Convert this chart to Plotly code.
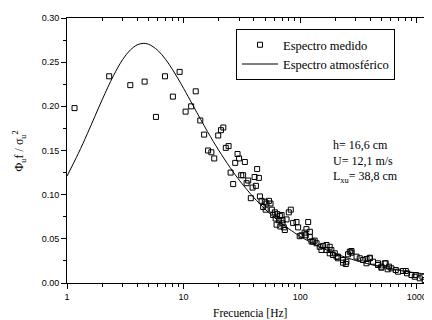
import plotly.graph_objects as go

# Measured spectrum (frequency Hz, normalized spectrum)
freq_measured = [
    1.16, 2.30, 3.49, 4.63, 5.79, 6.92, 8.09, 9.24, 10.4, 11.6, 12.7, 13.9, 15.0, 16.2, 17.3, 18.3,
    19.8, 20.9, 21.9, 23.0, 24.3, 25.3, 26.6, 27.7, 29.0, 29.9, 31.2, 32.4, 33.5, 34.7, 35.8, 37.7,
    39.0, 40.6, 41.7, 42.7, 44.2, 45.1, 46.6, 48.1, 49.7, 50.5, 51.4, 53.9, 55.6, 57.1, 58.6, 60.6,
    61.5, 62.7, 63.4, 65.9, 66.9, 67.5, 69.2, 70.5, 70.5, 72.3, 73.8, 76.3, 79.8, 83.0, 86.9, 92.9,
    95.9, 99.0, 102.6, 109, 111.6, 113, 117, 121, 120.9, 125, 129, 133, 138, 147, 152, 157, 168, 168,
    179, 179, 185, 191, 198, 205, 211, 211, 233, 233, 246, 249, 257, 266, 275, 275, 304, 324, 346,
    370, 370, 395, 395, 421, 465, 465, 497, 497, 531, 541, 562, 578, 606, 659, 690, 762, 804, 824,
    899, 960, 980, 1059, 1117, 1169, 1274, 1290,
]
val_measured = [
    0.198, 0.234, 0.224, 0.228, 0.188, 0.234, 0.211, 0.239, 0.194, 0.200, 0.217, 0.184, 0.168, 0.150, 0.148, 0.141,
    0.167, 0.173, 0.176, 0.153, 0.155, 0.125, 0.112, 0.136, 0.146, 0.141, 0.122, 0.122, 0.137, 0.113, 0.116, 0.096,
    0.108, 0.120, 0.110, 0.129, 0.119, 0.098, 0.093, 0.086, 0.092, 0.083, 0.090, 0.093, 0.090, 0.083, 0.077, 0.080,
    0.073, 0.066, 0.078, 0.071, 0.076, 0.064, 0.077, 0.071, 0.0676, 0.063, 0.060, 0.072, 0.080, 0.083, 0.068, 0.069,
    0.063, 0.053, 0.054, 0.057, 0.054, 0.061, 0.069, 0.058, 0.052, 0.047, 0.0468, 0.048, 0.045, 0.041, 0.0374, 0.042, 0.043, 0.0374,
    0.041, 0.0336, 0.0374, 0.0317, 0.0336, 0.0298, 0.0298, 0.028, 0.026, 0.023, 0.0215, 0.0241, 0.0325, 0.0354, 0.0362, 0.0343, 0.0298, 0.028, 0.026,
    0.0272, 0.0223, 0.0286, 0.028, 0.0241, 0.0204, 0.0223, 0.0173, 0.0185, 0.0223, 0.0223, 0.0155, 0.0185, 0.0166, 0.0147, 0.0128, 0.0136, 0.0136, 0.011,
    0.009, 0.0071, 0.009, 0.0053, 0.0071, 0.0034, 0.0053, 0.0015,
]

# Atmospheric spectrum curve
freq_model = [1, 1.25, 1.5, 2, 2.5, 3, 3.5, 4, 4.5, 5, 6, 7, 8, 9, 10, 12, 14, 16, 18, 20,
              25, 30, 35, 40, 50, 60, 70, 80, 100, 120, 150, 200, 250, 300, 400, 500, 600,
              800, 1000, 1200, 1400]
val_model = [0.121, 0.1466, 0.1695, 0.2073, 0.2346, 0.2529, 0.2639, 0.2696, 0.2713, 0.2703,
             0.2634, 0.2532, 0.2420, 0.2309, 0.2203, 0.2013, 0.1852, 0.1716, 0.1601, 0.1502,
             0.1308, 0.1164, 0.1055, 0.0967, 0.0835, 0.0741, 0.0669, 0.0612, 0.0528, 0.0468,
             0.0403, 0.0333, 0.0287, 0.0254, 0.0210, 0.0181, 0.0160, 0.0132, 0.0114, 0.0101,
             0.0091]

x_tickvals = [1, 10, 100, 1000]
x_ticktext = ["1", "10", "100", "1000"]
x_minor_tickvals = [2, 3, 4, 5, 6, 7, 8, 9, 20, 30, 40, 50, 60, 70, 80, 90,
                    200, 300, 400, 500, 600, 700, 800, 900]
y_tickvals = [0.00, 0.05, 0.10, 0.15, 0.20, 0.25, 0.30]
y_ticktext = ["0.00", "0.05", "0.10", "0.15", "0.20", "0.25", "0.30"]
y_minor_tickvals = [0.025, 0.075, 0.125, 0.175, 0.225, 0.275]

SERIF = "Liberation Serif, Times New Roman, serif"
SANS = "Liberation Sans, Arial, sans-serif"
XRANGE = [0, 3.13]

fig = go.Figure()
fig.add_trace(go.Scatter(
    x=freq_measured, y=val_measured, mode="markers", name="Espectro medido",
    marker=dict(symbol="square-open", size=5, color="black", line=dict(width=1, color="black")),
    xaxis="x", yaxis="y",
))
fig.add_trace(go.Scatter(
    x=freq_model, y=val_model, mode="lines", name="Espectro atmosférico",
    line=dict(color="black", width=1, shape="spline"),
    xaxis="x2", yaxis="y",
))

# page body adds an 8px offset, so the figure is sized/margined to compensate
fig.update_layout(
    width=424, height=312,
    margin=dict(l=59, r=0, t=10, b=37),
    paper_bgcolor="white", plot_bgcolor="white",
    showlegend=True,
    legend=dict(
        x=0.463, y=0.958, xanchor="left", yanchor="top",
        bgcolor="white", bordercolor="black", borderwidth=1,
        font=dict(family=SERIF, size=12.5, color="black"),
        itemwidth=36, tracegroupgap=0,
    ),
    xaxis=dict(
        type="log", range=XRANGE, showgrid=False, zeroline=False, automargin=False,
        showline=True, linecolor="black", linewidth=1,
        ticks="outside", ticklen=5, tickcolor="black", tickwidth=1,
        tickvals=x_tickvals, ticktext=x_ticktext,
        tickfont=dict(family=SANS, size=9, color="black"),
        minor=dict(ticks="outside", ticklen=3, tickcolor="black", tickvals=x_minor_tickvals, showgrid=False),
    ),
    xaxis2=dict(
        type="log", range=XRANGE, overlaying="x", side="top", showgrid=False, zeroline=False,
        automargin=False, showline=True, linecolor="black", linewidth=1,
        ticks="inside", ticklen=5, tickcolor="black", tickwidth=1,
        tickvals=x_tickvals, showticklabels=False,
        minor=dict(ticks="inside", ticklen=3, tickcolor="black", tickvals=x_minor_tickvals, showgrid=False),
    ),
    yaxis=dict(
        range=[0, 0.30], showgrid=False, zeroline=False, automargin=False,
        showline=True, linecolor="black", linewidth=1,
        ticks="outside", ticklen=5, tickcolor="black", tickwidth=1,
        tickvals=y_tickvals, ticktext=y_ticktext,
        tickfont=dict(family=SANS, size=9, color="black"),
        minor=dict(ticks="outside", ticklen=3, tickcolor="black", tickvals=y_minor_tickvals, showgrid=False),
    ),
    annotations=[
        dict(
            xref="paper", yref="paper", x=0.723, y=0.457, xanchor="left", yanchor="middle",
            text="h= 16,6 cm<br>U= 12,1 m/s<br>L<sub>xu</sub>= 38,8 cm",
            align="left", showarrow=False,
            font=dict(family=SERIF, size=12, color="black"),
        ),
        dict(
            xref="paper", yref="paper", x=0.5, y=-0.113, xanchor="center", yanchor="middle",
            text="Frecuencia [Hz]", showarrow=False,
            font=dict(family=SERIF, size=11.5, color="black"),
        ),
        dict(
            xref="paper", yref="paper", x=-0.129, y=0.5, xanchor="center", yanchor="middle",
            text="Φ<sub>u</sub>f / σ<sub>u</sub><sup>2</sup>", textangle=-90, showarrow=False,
            font=dict(family=SERIF, size=12, color="black"),
        ),
    ],
)

fig.write_html("out.html")
